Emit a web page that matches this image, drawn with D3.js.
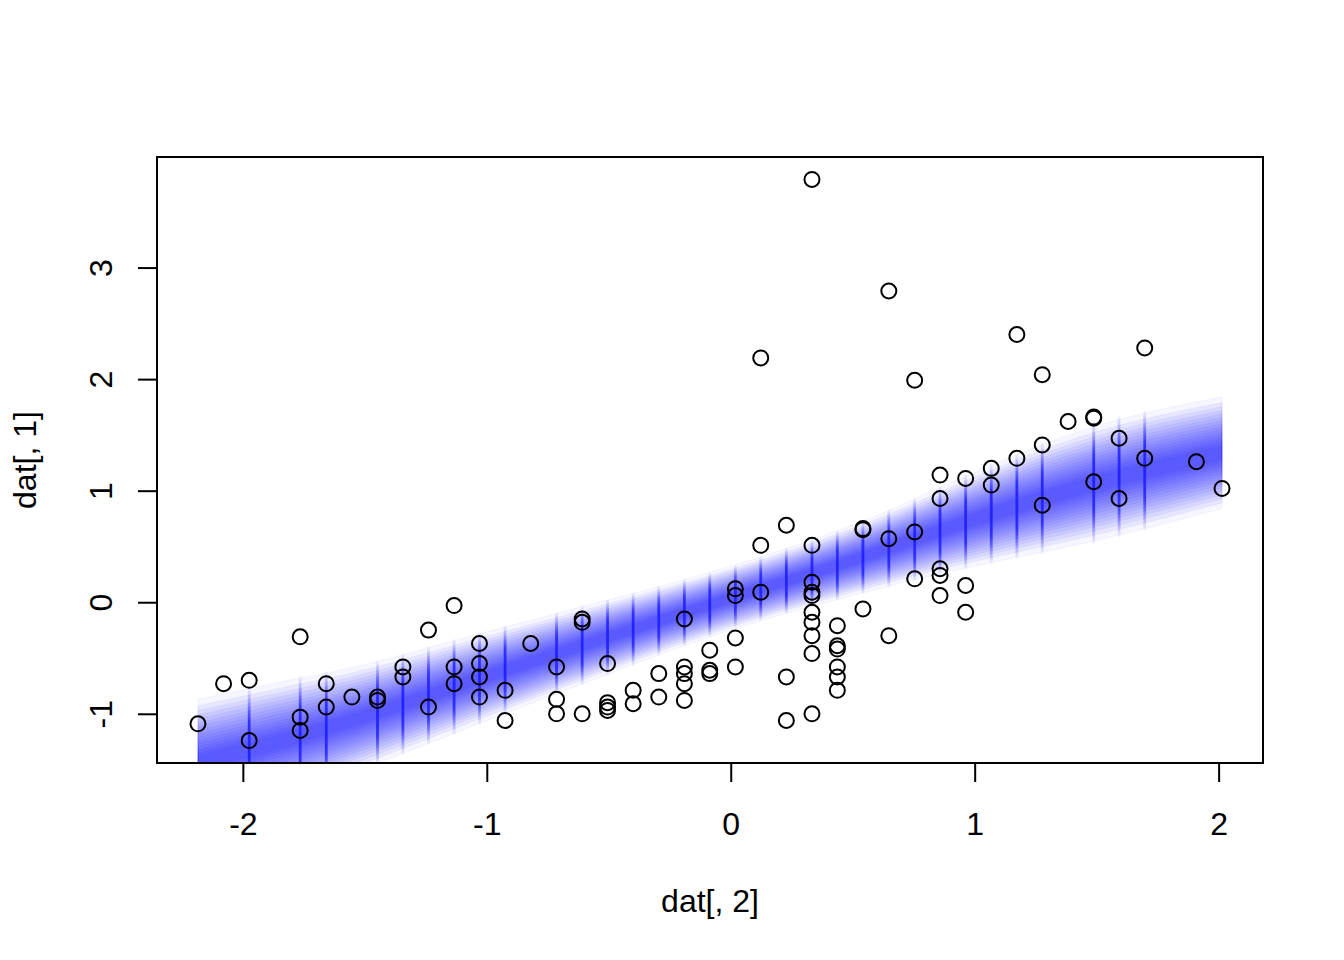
<!DOCTYPE html>
<html><head><meta charset="utf-8">
<script src="https://cdn.jsdelivr.net/npm/d3@7"></script>
<style>
body{margin:0;background:#fff}
svg{display:block}
</style>
</head><body>
<svg id="c" width="1344" height="960"></svg>
<script>
// ---- data ----
const pointX = [
  -2.184,
  -2.079,
  -1.974, -1.974,
  -1.765, -1.765, -1.765,
  -1.658, -1.658,
  -1.553,
  -1.448, -1.448,
  -1.344, -1.344,
  -1.239, -1.239,
  -1.134, -1.134, -1.134,
  -1.030, -1.030, -1.030, -1.030,
  -0.925, -0.925,
  -0.820,
  -0.714, -0.714, -0.714,
  -0.609, -0.609, -0.609,
  -0.505, -0.505, -0.505, -0.505,
  -0.400, -0.400,
  -0.295, -0.295,
  -0.190, -0.190, -0.190, -0.190, -0.190,
  -0.086, -0.086, -0.086,
  0.019, 0.019, 0.019, 0.019,
  0.123, 0.123, 0.123,
  0.228, 0.228, 0.228,
  0.333, 0.333, 0.333, 0.333, 0.333, 0.333, 0.333, 0.333, 0.333, 0.333,
  0.437, 0.437, 0.437, 0.437, 0.437, 0.437,
  0.542, 0.542, 0.542,
  0.648, 0.648, 0.648,
  0.754, 0.754, 0.754,
  0.858, 0.858, 0.858, 0.858, 0.858,
  0.963, 0.963, 0.963,
  1.068, 1.068,
  1.173, 1.173,
  1.277, 1.277, 1.277,
  1.383,
  1.488, 1.488, 1.488,
  1.592, 1.592,
  1.697, 1.697,
  1.909,
  2.014
];
const pointY = [
  -1.09,
  -0.73,
  -0.70, -1.24,
  -0.31, -1.03, -1.15,
  -0.73, -0.94,
  -0.85,
  -0.85, -0.88,
  -0.58, -0.67,
  -0.25, -0.94,
  -0.03, -0.58, -0.73,
  -0.37, -0.55, -0.67, -0.85,
  -0.79, -1.06,
  -0.37,
  -0.58, -0.87, -1.00,
  -0.15, -0.18, -1.00,
  -0.55, -0.90, -0.94, -0.97,
  -0.79, -0.91,
  -0.64, -0.85,
  -0.15, -0.58, -0.64, -0.73, -0.88,
  -0.43, -0.61, -0.64,
  0.12, 0.06, -0.32, -0.58,
  2.19, 0.51, 0.09,
  0.69, -0.67, -1.06,
  3.79, 0.51, 0.18, 0.09, 0.06, -0.09, -0.18, -0.30, -0.46, -1.00,
  -0.21, -0.39, -0.42, -0.58, -0.67, -0.79,
  0.65, 0.66, -0.06,
  2.79, 0.57, -0.30,
  1.99, 0.63, 0.21,
  1.14, 0.93, 0.30, 0.24, 0.06,
  1.11, 0.15, -0.09,
  1.20, 1.05,
  2.40, 1.29,
  2.04, 1.41, 0.87,
  1.62,
  1.65, 1.66, 1.08,
  1.47, 0.93,
  2.28, 1.29,
  1.26,
  1.02
];
// posterior band: centre, dense half-width, faint half-width
const bandX     = [-2.184, -1.75, -1.5, -1.0, -0.5, 0.0, 0.5, 0.75, 1.0, 1.5, 2.014];
const bandMid   = [-1.45, -1.19, -1.03, -0.66, -0.31, 0.04, 0.37, 0.56, 0.75, 1.08, 1.34];
const bandInner = [0.28, 0.22, 0.19, 0.18, 0.16, 0.13, 0.15, 0.17, 0.20, 0.25, 0.24];
const bandOuter = [0.58, 0.52, 0.46, 0.40, 0.33, 0.27, 0.31, 0.36, 0.42, 0.54, 0.50];
const xTicks = [-2, -1, 0, 1, 2];
const yTicks = [-1, 0, 1, 2, 3];
const xTitle = "dat[, 2]";
const yTitle = "dat[, 1]";

// ---- layout ----
const W = 1344, H = 960, L = 157, R = 1263, T = 157, B = 763;
const FONT = '"Liberation Sans", Arial, Helvetica, sans-serif';
const svg = d3.select("#c");
svg.append("rect").attr("width", W).attr("height", H).attr("fill", "#fff");

const ext = a => { const [lo, hi] = d3.extent(a); const d = (hi - lo) * 0.04; return [lo - d, hi + d]; };
const x = d3.scaleLinear().domain(ext(pointX)).range([L, R]);
const y = d3.scaleLinear().domain(ext(pointY)).range([B, T]);

const defs = svg.append("defs");
defs.append("clipPath").attr("id", "plotclip")
  .append("rect").attr("x", L).attr("y", T).attr("width", R - L).attr("height", B - T);
const vg = defs.append("linearGradient").attr("id", "vg")
  .attr("x1", 0).attr("y1", 0).attr("x2", 0).attr("y2", 1);
[[0, 0], [0.12, 0.3], [0.28, 0.85], [0.5, 1], [0.72, 0.85], [0.88, 0.3], [1, 0]].forEach(([o, a]) =>
  vg.append("stop").attr("offset", o).attr("stop-color", "#2222ff").attr("stop-opacity", a));

const plot = svg.append("g").attr("clip-path", "url(#plotclip)");

// band layers
const bandPts = bandX.map((v, i) => ({ x: v, m: bandMid[i], inn: bandInner[i], out: bandOuter[i] }));
const K = 16;
for (let k = 0; k < K; k++) {
  const f = Math.pow(k / (K - 1), 0.8);
  const hw = d => d.out + (d.inn * 0.25 - d.out) * f;
  const area = d3.area()
    .x(d => x(d.x))
    .y0(d => y(d.m - hw(d)))
    .y1(d => y(d.m + hw(d)))
    .curve(d3.curveBasis);
  plot.append("path").datum(bandPts)
    .attr("d", area)
    .attr("fill", "rgb(0,0,255)")
    .attr("fill-opacity", k === 0 ? 0.035 : 0.062)
    .attr("stroke", "rgb(0,0,255)")
    .attr("stroke-opacity", 0.04)
    .attr("stroke-width", 1);
}

// vertical segments at tied x values
const midAt = d3.scaleLinear().domain(bandX).range(bandMid);
const outAt = d3.scaleLinear().domain(bandX).range(bandOuter);
const counts = d3.rollups(pointX, v => v.length, d => d).filter(d => d[1] > 1).map(d => d[0]);
plot.selectAll("rect.vseg").data(counts).join("rect")
  .attr("class", "vseg")
  .attr("x", d => x(d) - 1.4)
  .attr("width", 2.8)
  .attr("y", d => y(midAt(d) + 1.05 * outAt(d)))
  .attr("height", d => y(midAt(d) - 1.05 * outAt(d)) - y(midAt(d) + 1.05 * outAt(d)))
  .attr("fill", "url(#vg)");

// points
svg.append("g").selectAll("circle").data(pointX.map((v, i) => [v, pointY[i]])).join("circle")
  .attr("cx", d => x(d[0]))
  .attr("cy", d => y(d[1]))
  .attr("r", 7.5)
  .attr("fill", "none")
  .attr("stroke", "#000")
  .attr("stroke-width", 2);

// box
svg.append("rect").attr("x", L).attr("y", T).attr("width", R - L).attr("height", B - T)
  .attr("fill", "none").attr("stroke", "#000").attr("stroke-width", 2);

// axes
const gx = svg.append("g").attr("transform", `translate(0,${B})`)
  .call(d3.axisBottom(x).tickValues(xTicks).tickSize(19).tickSizeOuter(0).tickFormat(d3.format("d")));
gx.select(".domain").remove();
gx.selectAll(".tick line").attr("stroke", "#000").attr("stroke-width", 2);
gx.selectAll(".tick text").attr("y", 72).attr("dy", 0)
  .attr("font-family", FONT).attr("font-size", 32).attr("fill", "#000")
  .text(d => d < 0 ? "-" + Math.abs(d) : String(d));
svg.append("line").attr("x1", x(xTicks[0])).attr("x2", x(xTicks[xTicks.length - 1]))
  .attr("y1", B).attr("y2", B).attr("stroke", "#000").attr("stroke-width", 2);

const gy = svg.append("g").attr("transform", `translate(${L},0)`)
  .call(d3.axisLeft(y).tickValues(yTicks).tickSize(19).tickSizeOuter(0).tickFormat(d3.format("d")));
gy.select(".domain").remove();
gy.selectAll(".tick line").attr("stroke", "#000").attr("stroke-width", 2);
gy.selectAll(".tick text").attr("x", 0).attr("y", 0).attr("dy", 0)
  .attr("transform", "translate(-45,0) rotate(-90)")
  .attr("text-anchor", "middle")
  .attr("font-family", FONT).attr("font-size", 32).attr("fill", "#000")
  .text(d => d < 0 ? "-" + Math.abs(d) : String(d));
svg.append("line").attr("y1", y(yTicks[0])).attr("y2", y(yTicks[yTicks.length - 1]))
  .attr("x1", L).attr("x2", L).attr("stroke", "#000").attr("stroke-width", 2);

// titles
svg.append("text").attr("x", (L + R) / 2).attr("y", 912)
  .attr("text-anchor", "middle").attr("font-family", FONT).attr("font-size", 32)
  .text(xTitle);
svg.append("text").attr("transform", `translate(36,${(T + B) / 2}) rotate(-90)`)
  .attr("text-anchor", "middle").attr("font-family", FONT).attr("font-size", 32)
  .text(yTitle);
</script>
</body></html>
